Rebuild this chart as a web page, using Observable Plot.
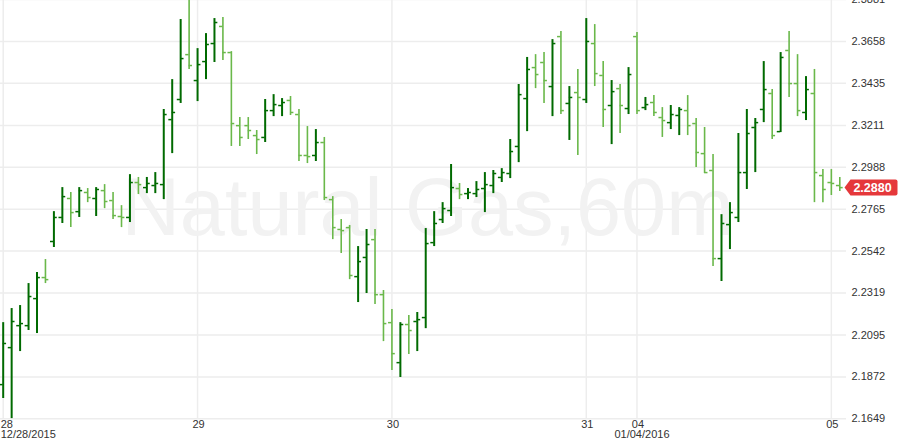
<!DOCTYPE html>
<html><head><meta charset="utf-8">
<script src="https://cdn.jsdelivr.net/npm/d3@7"></script>
<script src="https://cdn.jsdelivr.net/npm/@observablehq/plot@0.6"></script>
<style>html,body{margin:0;padding:0;background:#fff;} #chart svg{display:block;}</style>
</head><body><div id="chart"></div>
<script>
// ---- data (hourly OHLC bars, index = bar number) ----
const open = [2.1831,2.2028,2.2145,2.2145,2.2289,2.2401,2.2593,2.2721,2.2822,2.2752,
2.2854,2.2822,2.2864,2.2811,2.2726,2.2721,2.2907,2.2880,2.2891,2.2896,
2.3242,2.3349,2.3588,2.3450,2.3551,2.3647,2.3738,2.3599,2.3210,2.3210,
2.3157,2.3147,2.3290,2.3317,2.3344,2.3269,2.3051,2.3051,2.3120,2.2816,
2.2657,2.2667,2.2406,2.2508,2.2603,2.2310,2.2161,2.1948,2.2151,2.2167,
2.2188,2.2587,2.2710,2.2758,2.2875,2.2848,2.2848,2.2875,2.2891,2.2934,
2.2955,2.3099,2.3354,2.3519,2.3546,2.3418,2.3684,2.3328,2.3386,2.3349,
2.3647,2.3477,2.3317,2.3407,2.3301,2.3684,2.3306,2.3333,2.3253,2.3226,
2.3264,2.3290,2.3221,2.3061,2.2971,2.2502,2.2683,2.2721,2.2960,2.3200,
2.3296,2.3381,2.3178,2.3610,2.3434,2.3280,2.3381,2.2944,2.2907,2.2891];
const high = [2.2161,2.2236,2.2252,2.2369,2.2428,2.2497,2.2752,2.2880,2.2854,2.2880,
2.2875,2.2880,2.2896,2.2854,2.2784,2.2949,2.2934,2.2934,2.2960,2.3296,
2.3455,2.3775,2.3885,2.3620,2.3700,2.3780,2.3786,2.3604,2.3253,2.3253,
2.3184,2.3349,2.3375,2.3354,2.3365,2.3296,2.3205,2.3189,2.3147,2.2832,
2.2710,2.2678,2.2566,2.2657,2.2657,2.2332,2.2231,2.2161,2.2199,2.2215,
2.2662,2.2752,2.2800,2.3003,2.2902,2.2875,2.2912,2.2960,2.2971,2.2981,
2.3136,2.3429,2.3573,2.3588,2.3599,2.3668,2.3711,2.3418,2.3509,2.3780,
2.3748,2.3551,2.3450,2.3429,2.3519,2.3706,2.3360,2.3370,2.3306,2.3317,
2.3306,2.3370,2.3248,2.3200,2.3056,2.2736,2.2800,2.3168,2.3296,2.3248,
2.3551,2.3402,2.3599,2.3711,2.3588,2.3471,2.3509,2.2976,2.2976,2.2934];
const low = [2.1757,2.1650,2.2007,2.2119,2.2103,2.2369,2.2561,2.2689,2.2667,2.2721,
2.2800,2.2726,2.2768,2.2710,2.2667,2.2694,2.2843,2.2848,2.2848,2.2816,
2.3061,2.3328,2.3509,2.3338,2.3455,2.3546,2.3557,2.3099,2.3099,2.3136,
2.3056,2.3120,2.3258,2.3258,2.3264,2.3019,2.3008,2.3019,2.2811,2.2603,
2.2529,2.2390,2.2268,2.2316,2.2257,2.2060,2.1906,2.1869,2.1991,2.2007,
2.2129,2.2566,2.2689,2.2726,2.2816,2.2816,2.2827,2.2747,2.2848,2.2907,
2.2928,2.3013,2.3178,2.3407,2.3328,2.3258,2.3269,2.3131,2.3051,2.3328,
2.3418,2.3200,2.3109,2.3168,2.3269,2.3269,2.3290,2.3258,2.3147,2.3189,
2.3157,2.3157,2.2987,2.2955,2.2460,2.2380,2.2550,2.2694,2.2870,2.2960,
2.3226,2.3136,2.3173,2.3360,2.3258,2.3237,2.2800,2.2800,2.2838,2.2859];
const close = [2.2050,2.2167,2.2156,2.2300,2.2401,2.2390,2.2721,2.2832,2.2747,2.2864,
2.2827,2.2870,2.2806,2.2731,2.2721,2.2907,2.2896,2.2902,2.2902,2.3269,
2.3280,2.3567,2.3530,2.3535,2.3642,2.3759,2.3599,2.3221,2.3147,2.3184,
2.3136,2.3290,2.3322,2.3333,2.3280,2.3051,2.3045,2.3120,2.2827,2.2667,
2.2651,2.2412,2.2486,2.2577,2.2310,2.2156,2.1996,2.2151,2.2119,2.2177,
2.2582,2.2689,2.2768,2.2880,2.2843,2.2854,2.2870,2.2896,2.2955,2.2960,
2.3072,2.3375,2.3509,2.3482,2.3450,2.3647,2.3290,2.3360,2.3360,2.3658,
2.3487,2.3296,2.3391,2.3317,2.3482,2.3290,2.3322,2.3280,2.3237,2.3269,
2.3296,2.3210,2.3067,2.2960,2.2502,2.2689,2.2747,2.2960,2.3168,2.3226,
2.3402,2.3157,2.3573,2.3434,2.3290,2.3402,2.2960,2.2870,2.2902,2.2880];

const dayTickIndex = [0, 23, 46, 69, 75, 98];
const dayTickLabels = ["28", "29", "30", "31", "04", "05"];
const dateTickIndex = [0, 75];
const dateTickLabels = ["12/28/2015", "01/04/2016"];
const priceTicks = [2.1649, 2.1872, 2.2095, 2.2319, 2.2542, 2.2765, 2.2988, 2.3211, 2.3435, 2.3658, 2.3881];
const lastPrice = 2.2880;
const watermark = "Natural Gas,60m";

// ---- build ----
const bars = open.map((o, i) => ({i, open: o, high: high[i], low: low[i], close: close[i]}));
const UP = "#006a00", DOWN = "#6ab84a";
const col = d => d.close >= d.open ? UP : DOWN;
const FONT = "'Liberation Sans', Arial, Helvetica, sans-serif";

const priceTag = {
  draw(ctx) {
    ctx.moveTo(-28, 0);
    ctx.lineTo(-22, -8);
    ctx.lineTo(23, -8);
    ctx.quadraticCurveTo(25, -8, 25, -6);
    ctx.lineTo(25, 6);
    ctx.quadraticCurveTo(25, 8, 23, 8);
    ctx.lineTo(-22, 8);
    ctx.closePath();
  }
};

const plot = Plot.plot({
  width: 900, height: 448,
  marginLeft: 0, marginRight: 54, marginTop: 0, marginBottom: 30,
  style: {fontFamily: FONT, fontSize: "11px", color: "#333", background: "#fff", overflow: "hidden"},
  x: {type: "linear", domain: [0, 99], range: [2.7, 839.3], axis: null},
  y: {domain: [2.1649, 2.3881], range: [418.3, -0.9], axis: null},
  color: {type: "identity"},
  marks: [
    Plot.gridY(priceTicks, {stroke: "#ededed", strokeOpacity: 1, strokeWidth: 1.5}),
    Plot.ruleX(dayTickIndex, {x: d => d, stroke: "#ededed", strokeWidth: 1.5}),
    Plot.text([watermark], {frameAnchor: "middle", dx: 4, dy: 0, text: d => d,
      fontSize: 81, fill: "#f2f2f2", fontFamily: FONT}),
    Plot.ruleX(bars, {x: "i", y1: "low", y2: "high", stroke: col,
      strokeWidth: d => d.close >= d.open ? 2 : 1.6}),
    Plot.ruleY(bars, {y: "open", x1: d => d.i - 0.4, x2: "i", stroke: col, strokeWidth: 1.5}),
    Plot.ruleY(bars, {y: "close", x1: "i", x2: d => d.i + 0.4, stroke: col, strokeWidth: 1.5}),
    Plot.axisY(priceTicks, {anchor: "right", tickSize: 0, tickPadding: 5,
      tickFormat: d => d.toFixed(4), fill: "#333", fontSize: 11}),
    // time axis labels
    Plot.text(dayTickIndex.slice(0, 1), {x: d => d, text: (d, i) => dayTickLabels[i],
      frameAnchor: "bottom", textAnchor: "start", dx: -2.5, dy: 9.5, fill: "#333", fontSize: 11}),
    Plot.text(dayTickIndex.slice(1), {x: d => d, text: (d, i) => dayTickLabels[i + 1],
      frameAnchor: "bottom", textAnchor: "middle", dx: 1, dy: 9.5, fill: "#333", fontSize: 11}),
    Plot.text(dateTickIndex.slice(0, 1), {x: d => d, text: (d, i) => dateTickLabels[i],
      frameAnchor: "bottom", textAnchor: "start", dx: -2.5, dy: 19.5, fill: "#333", fontSize: 11}),
    Plot.text(dateTickIndex.slice(1), {x: d => d, text: (d, i) => dateTickLabels[i + 1],
      frameAnchor: "bottom", textAnchor: "middle", dx: 5, dy: 19.5, fill: "#333", fontSize: 11}),
    // last price tag
    Plot.dot([lastPrice], {y: d => d, frameAnchor: "right", dx: 26, symbol: priceTag,
      fill: "#e5383b", stroke: "none", r: 5}),
    Plot.text([lastPrice], {y: d => d, text: d => d.toFixed(4), frameAnchor: "right", dx: 26,
      textAnchor: "middle", fill: "#fff", fontWeight: "bold", fontSize: 12.5})
  ]
});
document.getElementById("chart").appendChild(plot);
</script>
</body></html>
